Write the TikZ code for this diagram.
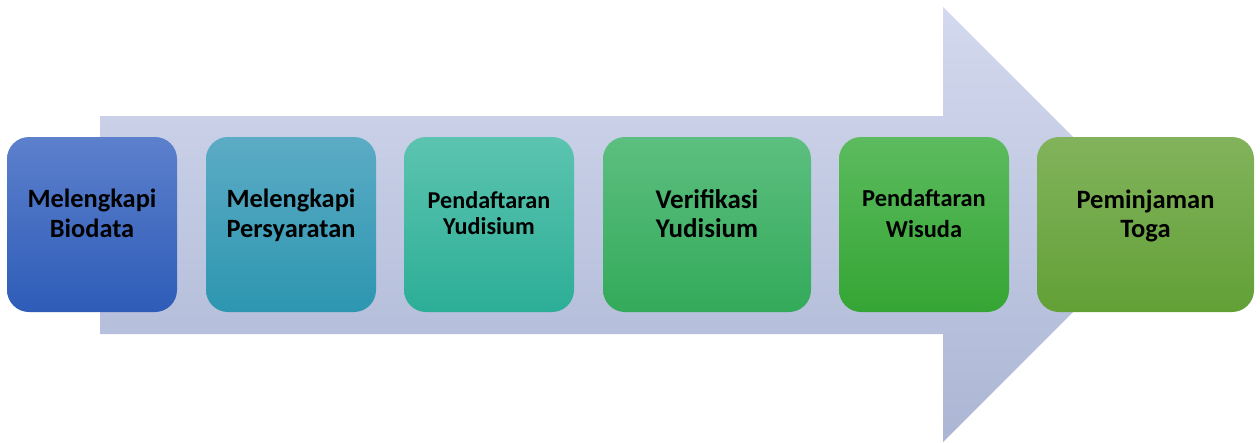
\documentclass[tikz,border=0pt]{standalone}
\usepackage{fontspec}
\setmainfont{Carlito}
\begin{document}
\begin{tikzpicture}[x=1pt,y=-1pt,
  stepbox/.style={rounded corners=22pt,draw=none},
  anch/.style={inner sep=0pt,minimum height=175pt,minimum width=#1},
  lbl/.style 2 args={inner sep=0pt,align=center,text=black,anchor=base,font=\bfseries\fontsize{#1}{#2}\selectfont}]
\useasboundingbox (0,0) rectangle (1260,442);
% big arrow
\shade[top color={rgb,255:red,211;green,217;blue,238},bottom color={rgb,255:red,172;green,182;blue,212}]
  (100,116) -- (943,116) -- (943,7) -- (1160.5,224.5) -- (943,442) -- (943,334) -- (100,334) -- cycle;
% boxes
\path[stepbox,top color={rgb,255:red,92;green,128;blue,204},bottom color={rgb,255:red,46;green,92;blue,184}]
  (7,137) rectangle (177,312);
\path[stepbox,top color={rgb,255:red,92;green,171;blue,197},bottom color={rgb,255:red,45;green,150;blue,176}]
  (206,137) rectangle (376,312);
\path[stepbox,top color={rgb,255:red,92;green,196;blue,176},bottom color={rgb,255:red,44;green,174;blue,150}]
  (404,137) rectangle (574,312);
\path[stepbox,top color={rgb,255:red,92;green,191;blue,127},bottom color={rgb,255:red,51;green,170;blue,90}]
  (603,137) rectangle (811,312);
\path[stepbox,top color={rgb,255:red,92;green,187;blue,94},bottom color={rgb,255:red,52;green,165;blue,52}]
  (839,137) rectangle (1009,312);
\path[stepbox,top color={rgb,255:red,130;green,179;blue,92},bottom color={rgb,255:red,98;green,160;blue,54}]
  (1037,137) rectangle (1254,312);
% named box anchors
\node[anch=170pt] (b1) at (92,224.5) {};
\node[anch=170pt] (b2) at (291,224.5) {};
\node[anch=170pt] (b3) at (489,224.5) {};
\node[anch=208pt] (b4) at (707,224.5) {};
\node[anch=170pt] (b5) at (924,224.5) {};
\node[anch=217pt] (b6) at (1145.5,224.5) {};
% labels (anchor = baseline of the last line)
\node[lbl={26.4}{30}] (t1) at (b1.center |- 0,237) {Melengkapi\\Biodata};
\node[lbl={26.4}{30}] (t2) at (b2.center |- 0,237) {Melengkapi\\Persyaratan};
\node[lbl={24.2}{26}] (t3) at (b3.center |- 0,234) {Pendaftaran\\Yudisium};
\node[lbl={27}{29}] (t4) at (b4.center |- 0,237) {Verifikasi\\Yudisium};
\node[lbl={24.4}{31}] (t5) at (b5.center |- 0,237) {Pendaftaran\\Wisuda};
\node[lbl={26.5}{29}] (t6) at (b6.center |- 0,237) {Peminjaman\\Toga};
\end{tikzpicture}
\end{document}
